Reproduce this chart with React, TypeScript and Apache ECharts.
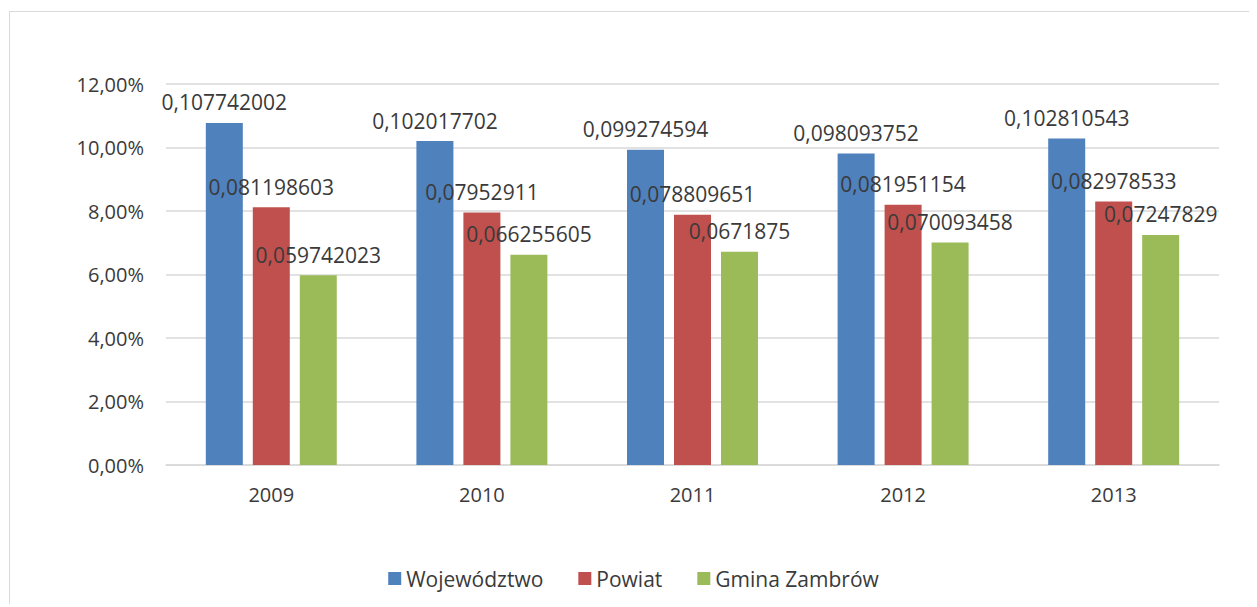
import React, { useEffect, useRef } from "react";
import * as echarts from "echarts";

const categories = ["2009", "2010", "2011", "2012", "2013"];
const wojewodztwo = [0.107742002, 0.102017702, 0.099274594, 0.098093752, 0.102810543];
const powiat = [0.081198603, 0.07952911, 0.078809651, 0.081951154, 0.082978533];
const gmina = [0.059742023, 0.066255605, 0.0671875, 0.070093458, 0.07247829];
const seriesNames = ["Województwo", "Powiat", "Gmina Zambrów"];
const colors = ["#4F81BD", "#C0504D", "#9BBB59"];

const FONT = "'Open Sans', sans-serif";
const TXT = "#3A3A3A";

export default function App() {
  const ref = useRef<HTMLDivElement>(null);
  useEffect(() => {
    if (!ref.current) return;
    const chart = echarts.init(ref.current, undefined, { renderer: "svg" });
    const mk = (name: string, data: number[], color: string) => ({
      name,
      type: "bar",
      data,
      barWidth: 37,
      barGap: "27%",
      itemStyle: { color },
      label: {
        show: true,
        position: "top",
        distance: 10,
        color: TXT,
        fontFamily: FONT,
        fontSize: 21,
        formatter: (p: any) => String(p.value).replace(".", ","),
      },
    });
    chart.setOption({
      animation: false,
      textStyle: { fontFamily: FONT },
      grid: { left: 156, top: 72, width: 1053, height: 381 },
      legend: {
        data: seriesNames,
        bottom: 13,
        left: "center",
        itemWidth: 13,
        itemHeight: 13,
        itemGap: 35,
        icon: "rect",
        textStyle: { color: TXT, fontFamily: FONT, fontSize: 21, padding: [0, 0, 0, 0] },
      },
      xAxis: {
        type: "category",
        data: categories,
        axisLine: { lineStyle: { color: "#D9D9D9", width: 1.5 } },
        axisTick: { show: false },
        axisLabel: { color: TXT, fontFamily: FONT, fontSize: 20, margin: 19 },
      },
      yAxis: {
        type: "value",
        min: 0,
        max: 0.12,
        interval: 0.02,
        axisLine: { show: false },
        axisTick: { show: false },
        splitLine: { lineStyle: { color: "#D9D9D9", width: 1.5 } },
        axisLabel: {
          color: TXT,
          fontFamily: FONT,
          fontSize: 20,
          margin: 22,
          formatter: (v: number) => (v * 100).toFixed(2).replace(".", ",") + "%",
        },
      },
      series: [
        mk(seriesNames[0], wojewodztwo, colors[0]),
        mk(seriesNames[1], powiat, colors[1]),
        mk(seriesNames[2], gmina, colors[2]),
      ],
    });
    return () => chart.dispose();
  }, []);
  return (
    <div
      style={{
        position: "relative",
        top: 3,
        left: 1,
        borderTop: "1.5px solid #D9D9D9",
        borderLeft: "1.5px solid #D9D9D9",
        width: 1247,
        height: 595,
      }}
    >
      <div ref={ref} style={{ width: 1247, height: 595 }} />
    </div>
  );
}
